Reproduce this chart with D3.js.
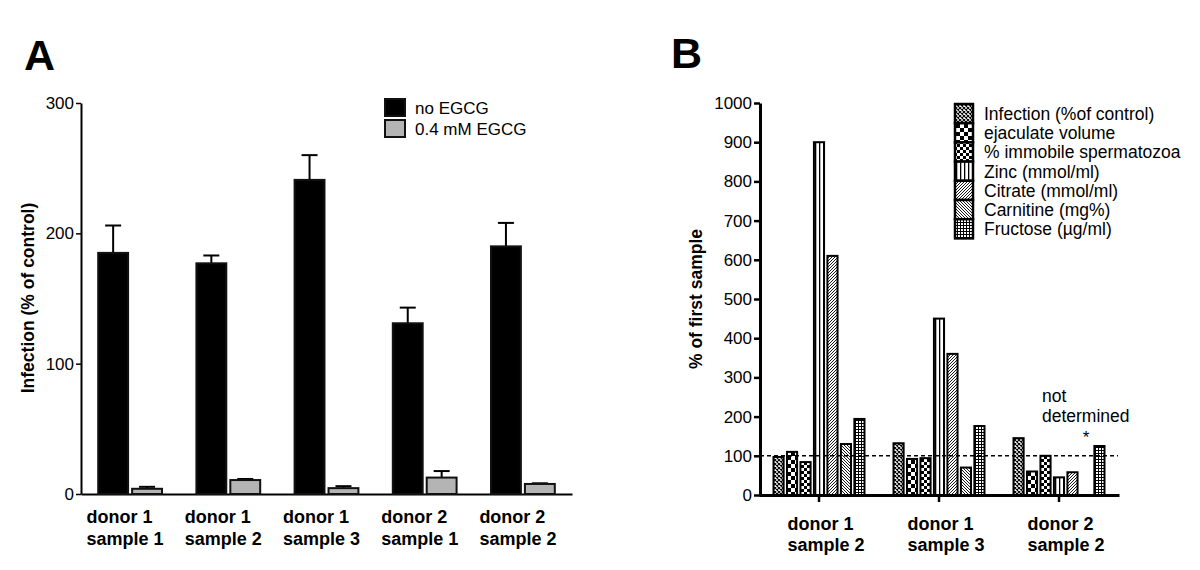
<!DOCTYPE html>
<html>
<head>
<meta charset="utf-8">
<script src="https://cdn.jsdelivr.net/npm/d3@7"></script>
<style>
  html, body { margin: 0; padding: 0; background: #fff; }
  svg { display: block; font-family: "Liberation Sans", Arial, sans-serif; }
</style>
</head>
<body>
<svg id="chart" width="1200" height="570"></svg>
<script>
// ---------- Panel A data ----------
const catsA = [["donor 1", "sample 1"], ["donor 1", "sample 2"], ["donor 1", "sample 3"], ["donor 2", "sample 1"], ["donor 2", "sample 2"]];
const seriesA = ["no EGCG", "0.4 mM EGCG"];
const noEGCG = [185, 177, 241, 131, 190];
const noEGCGErr = [21, 6, 19, 12, 18];
const withEGCG = [4, 10.7, 4.5, 12.6, 7.7];
const withEGCGErr = [1.5, 0.8, 1.5, 5, 0.5];
const ticksA = [0, 100, 200, 300];

// ---------- Panel B data ----------
const catsB = [["donor 1", "sample 2"], ["donor 1", "sample 3"], ["donor 2", "sample 2"]];
const paramsB = ["Infection (%of control)", "ejaculate volume", "% immobile spermatozoa", "Zinc (mmol/ml)", "Citrate (mmol/ml)", "Carnitine (mg%)", "Fructose (µg/ml)"];
const infection = [97, 132, 145];
const ejaculate = [110, 92, 60];
const immobile = [84, 94, 100];
const zinc = [900, 450, 45];
const citrate = [610, 360, 58];
const carnitine = [130, 70, null];
const fructose = [194, 176, 125];
const ticksB = [0, 100, 200, 300, 400, 500, 600, 700, 800, 900, 1000];
const referenceB = 100;

const svg = d3.select("#chart");
const defs = svg.append("defs");

// ---------- patterns for panel B ----------
function pat(id, w, h, build) {
  const p = defs.append("pattern").attr("id", id).attr("patternUnits", "userSpaceOnUse")
    .attr("width", w).attr("height", h);
  build(p);
}
pat("p0", 4, 4, p => {
  p.append("rect").attr("width", 4).attr("height", 4).attr("fill", "#fff");
  p.append("path").attr("d", "M0,0L4,4M4,0L0,4").attr("stroke", "#000").attr("stroke-width", 1.1);
});
pat("p1", 8, 8, p => {
  p.append("rect").attr("width", 8).attr("height", 8).attr("fill", "#fff");
  p.append("rect").attr("width", 4).attr("height", 4).attr("fill", "#000");
  p.append("rect").attr("x", 4).attr("y", 4).attr("width", 4).attr("height", 4).attr("fill", "#000");
});
pat("p2", 6, 6, p => {
  p.append("rect").attr("width", 6).attr("height", 6).attr("fill", "#000");
  p.append("rect").attr("width", 3).attr("height", 3).attr("fill", "#fff");
  p.append("rect").attr("x", 3).attr("y", 3).attr("width", 3).attr("height", 3).attr("fill", "#fff");
});
pat("p3", 4, 4, p => {
  p.append("rect").attr("width", 4).attr("height", 4).attr("fill", "#fff");
  p.append("rect").attr("x", 0).attr("width", 1.3).attr("height", 4).attr("fill", "#000");
});
pat("p4", 3, 3, p => {
  p.append("rect").attr("width", 3).attr("height", 3).attr("fill", "#fff");
  p.append("path").attr("d", "M-1,1L1,-1M0,3L3,0M2,4L4,2").attr("stroke", "#000").attr("stroke-width", 0.9);
});
pat("p5", 3, 3, p => {
  p.append("rect").attr("width", 3).attr("height", 3).attr("fill", "#fff");
  p.append("path").attr("d", "M-1,2L1,4M0,0L3,3M2,-1L4,1").attr("stroke", "#000").attr("stroke-width", 0.9);
});
pat("p6", 3, 3, p => {
  p.append("rect").attr("width", 3).attr("height", 3).attr("fill", "#fff");
  p.append("rect").attr("width", 3).attr("height", 1).attr("fill", "#000");
  p.append("rect").attr("width", 1).attr("height", 3).attr("fill", "#000");
});
const patIds = ["p0", "p1", "p2", "p3", "p4", "p5", "p6"];

// ================= PANEL A =================
const gA = svg.append("g");
gA.append("text").attr("x", 24).attr("y", 70).attr("font-size", 43).attr("font-weight", "bold").text("A");

const xA = d3.scaleBand().domain(d3.range(catsA.length)).range([81, 572]).paddingInner(0.33).paddingOuter(0.165);
const xAin = d3.scaleBand().domain(seriesA).range([0, xA.bandwidth()]).paddingInner(0.06);
const yA = d3.scaleLinear().domain([0, 300]).range([494, 103]);

// axes
const yAxisA = gA.append("g").attr("transform", "translate(81,0)")
  .call(d3.axisLeft(yA).tickValues(ticksA).tickFormat(d3.format("d")).tickSize(5).tickPadding(2).tickSizeOuter(0));
yAxisA.select(".domain").attr("stroke-width", 2);
yAxisA.selectAll(".tick line").attr("stroke-width", 1.5);
yAxisA.selectAll(".tick text").attr("font-size", 17).attr("font-family", "Liberation Sans, Arial, sans-serif").attr("fill", "#000");

const xAxisA = gA.append("g").attr("transform", "translate(0,494)")
  .call(d3.axisBottom(xA).tickSize(0).tickFormat(""));
xAxisA.select(".domain").attr("stroke-width", 2);

// bars
const dataA = catsA.map((c, i) => ({ i, vals: [
  { s: seriesA[0], v: noEGCG[i], e: noEGCGErr[i] },
  { s: seriesA[1], v: withEGCG[i], e: withEGCGErr[i] }
]}));
const grpA = gA.selectAll(".grpA").data(dataA).join("g").attr("transform", d => `translate(${xA(d.i)},0)`);
grpA.selectAll("line.err").data(d => d.vals).join("line").attr("class", "err")
  .attr("x1", d => xAin(d.s) + xAin.bandwidth() / 2).attr("x2", d => xAin(d.s) + xAin.bandwidth() / 2)
  .attr("y1", d => yA(d.v)).attr("y2", d => yA(d.v + d.e)).attr("stroke", "#000").attr("stroke-width", 2);
grpA.selectAll("line.cap").data(d => d.vals).join("line").attr("class", "cap")
  .attr("x1", d => xAin(d.s) + xAin.bandwidth() / 2 - 8).attr("x2", d => xAin(d.s) + xAin.bandwidth() / 2 + 8)
  .attr("y1", d => yA(d.v + d.e)).attr("y2", d => yA(d.v + d.e)).attr("stroke", "#000").attr("stroke-width", 2);
grpA.selectAll("rect").data(d => d.vals).join("rect")
  .attr("x", d => xAin(d.s) + 1).attr("width", xAin.bandwidth() - 2)
  .attr("y", d => yA(d.v)).attr("height", d => yA(0) - yA(d.v))
  .attr("fill", (d, j) => j === 0 ? "#000" : "#b4b4b4").attr("stroke", "#111").attr("stroke-width", 2);

// category labels
grpA.each(function (d) {
  const g = d3.select(this);
  const t = g.append("text").attr("font-size", 18).attr("font-weight", "bold");
  catsA[d.i].forEach((line, k) => t.append("tspan").attr("x", 0).attr("y", 523 + k * 22).text(line));
  const w = t.node().getBBox().width;
  t.selectAll("tspan").attr("x", xA.bandwidth() / 2 - 5 - w / 2);
});

// y title
gA.append("text").attr("transform", "translate(34,298) rotate(-90)").attr("text-anchor", "middle")
  .attr("font-size", 17.5).attr("font-weight", "bold").text("Infection (% of control)");

// legend
const legA = gA.append("g");
seriesA.forEach((s, i) => {
  legA.append("rect").attr("x", 385).attr("y", 99 + i * 21).attr("width", 20).attr("height", 17)
    .attr("fill", i === 0 ? "#000" : "#b4b4b4").attr("stroke", "#111").attr("stroke-width", 2);
  legA.append("text").attr("x", 415).attr("y", 114 + i * 21).attr("font-size", 17).text(s);
});

// ================= PANEL B =================
const gB = svg.append("g");
gB.append("text").attr("x", 671).attr("y", 68).attr("font-size", 43).attr("font-weight", "bold").text("B");

const xB = d3.scaleBand().domain(d3.range(catsB.length)).range([759, 1119]);
const xBin = d3.scaleBand().domain(paramsB).range([-46.5, 46.5]).paddingInner(0.1);
const yB = d3.scaleLinear().domain([0, 1000]).range([495, 103]);

const yAxisB = gB.append("g").attr("transform", "translate(760,0)")
  .call(d3.axisLeft(yB).tickValues(ticksB).tickFormat(d3.format("d")).tickSize(6).tickPadding(2).tickSizeOuter(0));
yAxisB.select(".domain").attr("stroke-width", 3);
yAxisB.selectAll(".tick line").attr("stroke-width", 2.5);
yAxisB.selectAll(".tick text").attr("font-size", 17).attr("font-family", "Liberation Sans, Arial, sans-serif").attr("fill", "#000");

const xAxisB = gB.append("g").attr("transform", "translate(0,495)")
  .call(d3.axisBottom(xB).tickSize(7).tickSizeOuter(0).tickFormat(""));
xAxisB.select(".domain").attr("stroke-width", 3);
xAxisB.selectAll(".tick line").attr("stroke-width", 2.5);

const seriesB = [infection, ejaculate, immobile, zinc, citrate, carnitine, fructose];
const dataB = catsB.map((c, i) => ({ i, vals: paramsB.map((p, k) => ({ p, k, v: seriesB[k][i] })) }));
const grpB = gB.selectAll(".grpB").data(dataB).join("g")
  .attr("transform", d => `translate(${xB(d.i) + xB.bandwidth() / 2},0)`);
grpB.selectAll("rect").data(d => d.vals.filter(v => v.v != null)).join("rect")
  .attr("x", d => xBin(d.p) + 1).attr("width", xBin.bandwidth() - 2)
  .attr("y", d => yB(d.v)).attr("height", d => yB(0) - yB(d.v))
  .attr("fill", d => `url(#${patIds[d.k]})`).attr("stroke", "#000").attr("stroke-width", 2);

// missing value marker
grpB.each(function (d) {
  const g = d3.select(this);
  d.vals.filter(v => v.v == null).forEach(v => {
    const cx = xBin(v.p) + xBin.bandwidth() / 2;
    g.append("text").attr("x", cx).attr("y", 443).attr("text-anchor", "middle").attr("font-size", 17).text("*");
    g.append("text").attr("font-size", 17.5).selectAll("tspan").data(["not", "determined"]).join("tspan")
      .attr("x", cx - 44).attr("y", (t, j) => 402 + j * 20).text(t => t);
  });
});

// reference line at 100
gB.append("line").attr("x1", 760).attr("x2", 1118).attr("y1", yB(referenceB)).attr("y2", yB(referenceB))
  .attr("stroke", "#000").attr("stroke-width", 1.5).attr("stroke-dasharray", "4,3");

// category labels
grpB.each(function (d) {
  const g = d3.select(this);
  const t = g.append("text").attr("font-size", 18).attr("font-weight", "bold");
  catsB[d.i].forEach((line, k) => t.append("tspan").attr("x", 0).attr("y", 530 + k * 21).text(line));
  const w = t.node().getBBox().width;
  t.selectAll("tspan").attr("x", 7 - w / 2);
});

// y title
gB.append("text").attr("transform", "translate(702,299) rotate(-90)").attr("text-anchor", "middle")
  .attr("font-size", 17.5).attr("font-weight", "bold").text("% of first sample");

// legend
const legB = gB.append("g");
paramsB.forEach((p, k) => {
  const y0 = 104 + k * 19.2;
  legB.append("rect").attr("x", 955).attr("y", y0).attr("width", 18).attr("height", 19.2)
    .attr("fill", `url(#${patIds[k]})`).attr("stroke", "#000").attr("stroke-width", 2.5);
  legB.append("text").attr("x", 984).attr("y", y0 + 16).attr("font-size", 17.5).text(p);
});
</script>
</body>
</html>
